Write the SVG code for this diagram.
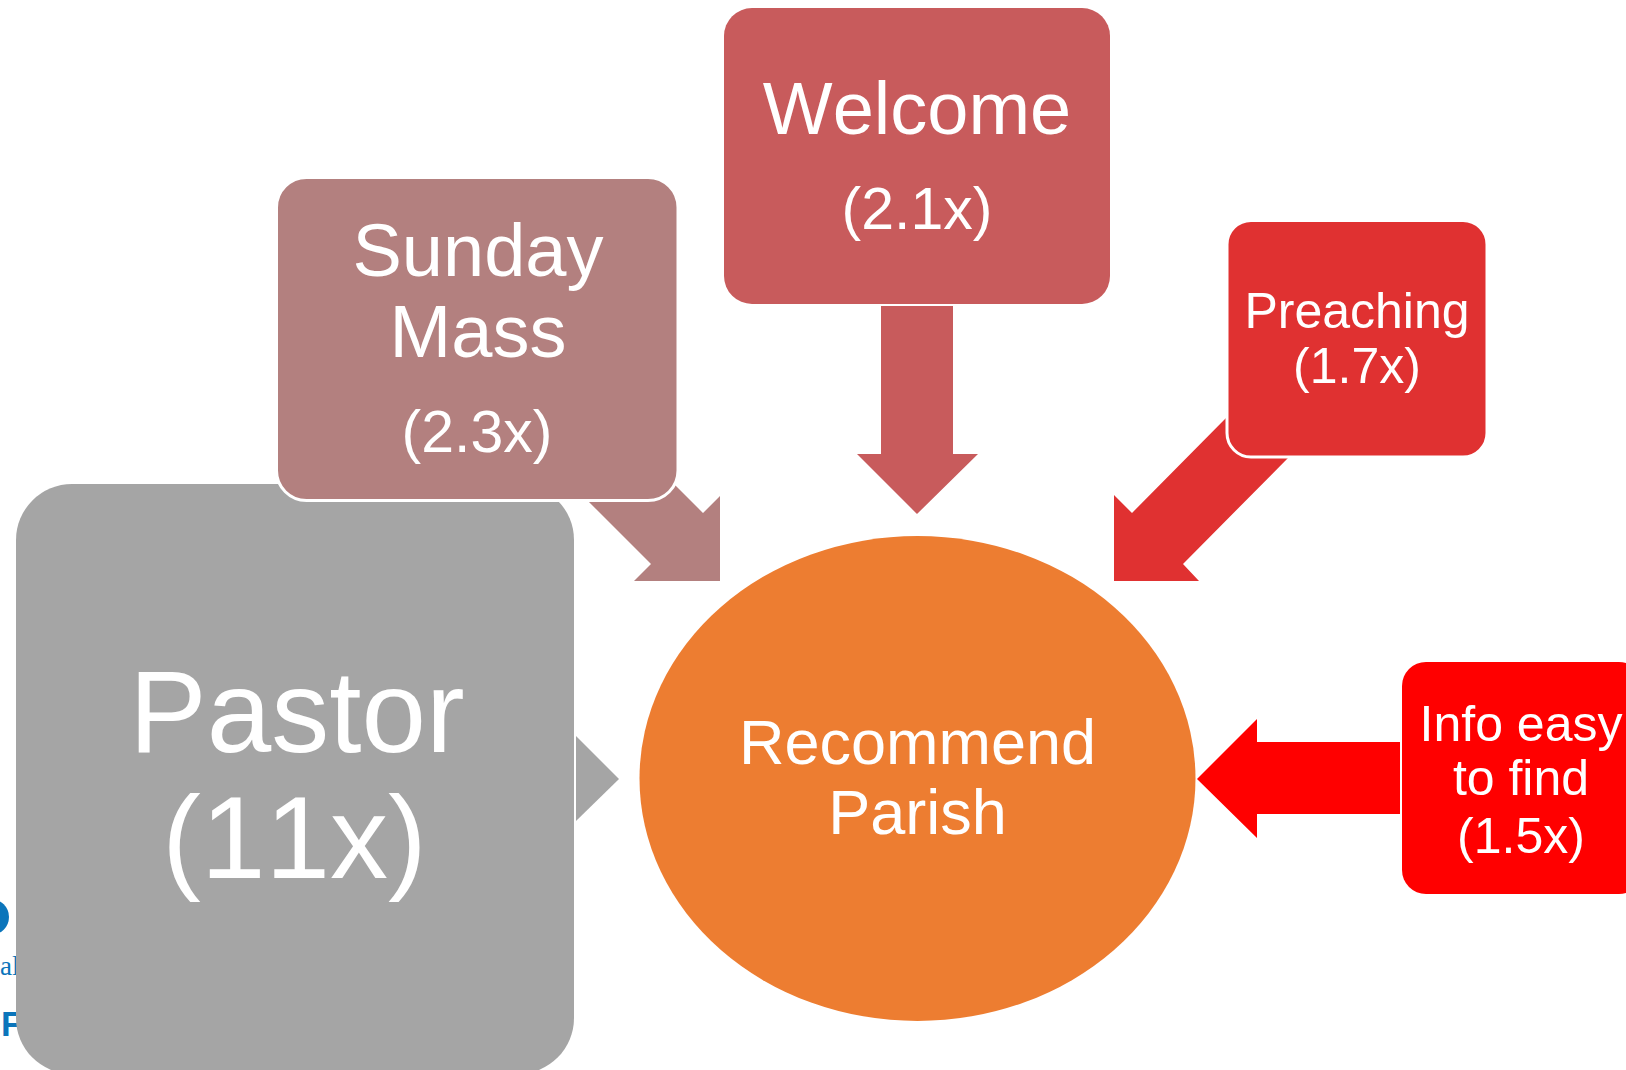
<svg xmlns="http://www.w3.org/2000/svg" width="1626" height="1070" viewBox="0 0 1626 1070">
<style>
text{font-family:"Liberation Sans",Arial,sans-serif;fill:#fff;text-anchor:middle;font-kerning:none}
.box{stroke:#fff;stroke-width:3}
.t50{font-size:50px}.t59{font-size:59px}.t63{font-size:63px}.t74{font-size:74px}.t117{font-size:116px}
.logo{fill:#0b75bb;text-anchor:start}
</style>
<rect width="1626" height="1070" fill="#fff"/>
<g id="logo">
<circle cx="-9" cy="917" r="18" fill="#0b75bb"/>
<text class="logo" x="0" y="975" style="font-family:'Liberation Serif',serif;font-size:27px">al</text>
<text class="logo" x="1" y="1036" style="font-size:35px;font-weight:bold">F</text>
</g>
<g id="pastor">
<rect x="16" y="484" width="558" height="590" rx="56" fill="#a5a5a5"/>
<text class="t117" x="297" y="752">Pastor</text>
<text class="t117" x="294.500" y="878">(11x)</text>
</g>
<g id="connectors">
<polygon points="576,736 619,779 576,821" fill="#a5a5a5"/>
<polygon points="585,498 651,564 634,581 720,581 720,496 703,513 675,485" fill="#b3807f"/>
<polygon points="881,306 953,306 953,454 978,454 917,514 857,454 881,454" fill="#c85b5c"/>
<polygon points="1226,418 1132,513 1114,495 1114,581 1199,581 1183,564 1288,458" fill="#e03131"/>
<polygon points="1400,742 1257,742 1257,719 1197,779 1257,838 1257,814 1400,814" fill="#ff0000"/>
</g>
<g id="sunday-mass">
<rect class="box" x="276.500" y="177.500" width="401.500" height="323" rx="30" fill="#b3807f"/>
<text class="t74" x="478" y="276">Sunday</text>
<text class="t74" x="478" y="357">Mass</text>
<text class="t59" x="477" y="452">(2.3x)</text>
</g>
<g id="welcome">
<rect x="724" y="8" width="386" height="296" rx="28" fill="#c85b5c"/>
<text class="t74" x="917" y="134">Welcome</text>
<text class="t59" x="917" y="229">(2.1x)</text>
</g>
<g id="preaching">
<rect class="box" x="1227" y="220.500" width="260" height="236.500" rx="24" fill="#e03131"/>
<text class="t50" x="1357" y="328">Preaching</text>
<text class="t50" x="1357" y="383">(1.7x)</text>
</g>
<g id="info">
<rect x="1402" y="662" width="241" height="232" rx="24" fill="#ff0000"/>
<text class="t50" x="1521" y="741">Info easy</text>
<text class="t50" x="1521" y="795">to find</text>
<text class="t50" x="1521" y="853">(1.5x)</text>
</g>
<g id="recommend">
<ellipse cx="917.500" cy="778.500" rx="278" ry="242.500" fill="#ed7d31"/>
<text class="t63" x="917.500" y="764">Recommend</text>
<text class="t63" x="917.500" y="834">Parish</text>
</g>
</svg>
